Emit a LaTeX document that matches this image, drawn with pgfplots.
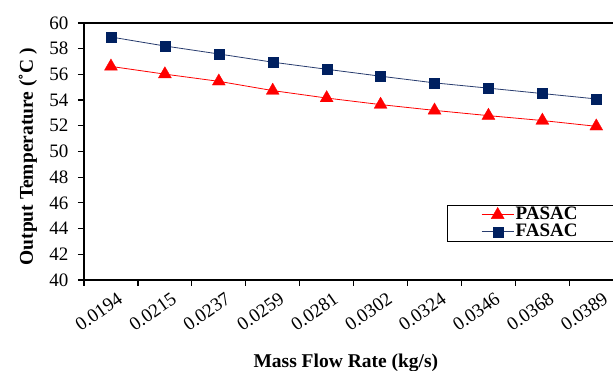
\documentclass[border=0pt]{standalone}
\usepackage{fontspec}
\setmainfont{Liberation Serif}
\usepackage{pgfplots}
\pgfplotsset{compat=1.18}
\definecolor{navy}{RGB}{0,32,96}
\definecolor{navyline}{RGB}{40,60,110}
\begin{document}
\begin{tikzpicture}
\begin{axis}[
  name=ax,
  at={(0,0)}, anchor=south west,
  scale only axis,
  width=529pt, height=257pt,
  xmin=-0.5, xmax=9.31,
  ymin=40, ymax=60,
  ytick={40,42,...,60},
  xtick={0,...,9},
  xticklabels={0.0194,0.0215,0.0237,0.0259,0.0281,0.0302,0.0324,0.0346,0.0368,0.0389},
  minor xtick={-0.5,0.5,...,9.5},
  major x tick style={draw=none},
  tick align=outside,
  tick style={black, line width=1.2pt},
  major tick length=6pt, minor tick length=6pt,
  axis x line*=box, axis y line*=left,
  axis line style={black, line width=1.2pt},
  ytick pos=left, xtick pos=bottom,
  /pgf/number format/assume math mode=true,
  ticklabel style={font=\fontsize{19}{19}\selectfont},
  yticklabel style={xshift=-6pt},
  xticklabel style={rotate=35, anchor=east, xshift=5pt, yshift=-14pt},
  xlabel={\textbf{Mass Flow Rate (kg/s)}},
  ylabel={\textbf{Output Temperature (˚C )}},
  label style={font=\bfseries\fontsize{19.5}{19.5}\selectfont},
  xlabel style={at={(axis description cs:0.495,-0.339)}, anchor=base},
  ylabel style={at={(axis description cs:-0.106,0.479)}, anchor=center, rotate=0},
  clip=false,
  legend style={at={(0.686,0.292)}, anchor=north west, draw=black, line width=0.8pt,
    font=\bfseries\fontsize{19}{19}\selectfont, inner xsep=34pt, inner ysep=1pt,
    nodes={inner sep=1.5pt, text height=12pt, text depth=2pt}, row sep=0pt},
  legend cell align=left,
  legend image code/.code={\draw[#1, mark repeat=2, mark phase=2] plot coordinates {(0pt,0pt) (16pt,0pt) (32pt,0pt)};},
]
\addplot[red, line width=0.8pt, mark=triangle*, mark size=7.5pt, mark options={fill=red, draw=red, line width=0.3pt}]
  coordinates {(0,56.62) (1,56.02) (2,55.46) (3,54.74) (4,54.16) (5,53.65) (6,53.2) (7,52.79) (8,52.41) (9,51.96)};
\addlegendentry{PASAC}
\addplot[navyline, line width=0.8pt, mark=square*, mark size=5pt, mark options={fill=navy, draw=navy, line width=0.3pt}]
  coordinates {(0,58.91) (1,58.21) (2,57.59) (3,56.95) (4,56.40) (5,55.86) (6,55.34) (7,54.93) (8,54.51) (9,54.09)};
\addlegendentry{FASAC}
\end{axis}
\pgfresetboundingbox
\path[use as bounding box] (ax.south west) ++(-84pt,-91pt) rectangle ++(613pt,371pt);
\end{tikzpicture}
\end{document}
